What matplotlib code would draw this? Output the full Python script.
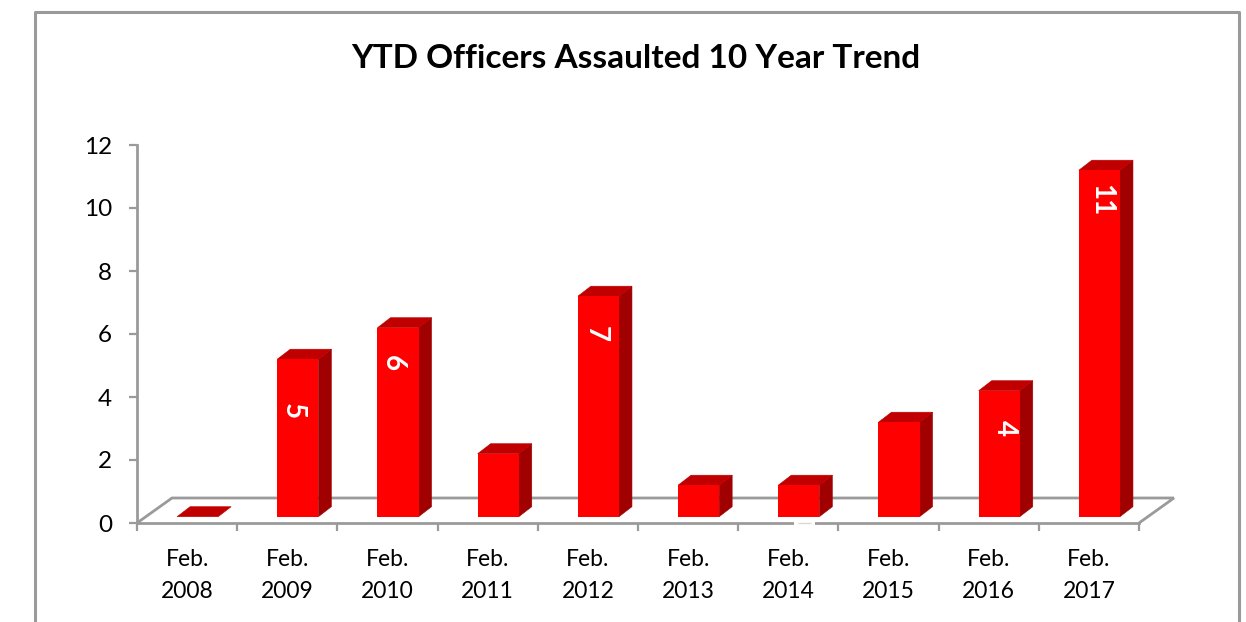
import matplotlib
matplotlib.use("Agg")
import matplotlib.pyplot as plt
from matplotlib.patches import Polygon
from matplotlib.lines import Line2D

plt.rcParams['font.family'] = ['Lato', 'DejaVu Sans']

categories = ["Feb.\n2008", "Feb.\n2009", "Feb.\n2010", "Feb.\n2011", "Feb.\n2012",
              "Feb.\n2013", "Feb.\n2014", "Feb.\n2015", "Feb.\n2016", "Feb.\n2017"]
values = [0, 5, 6, 2, 7, 1, 1, 3, 4, 11]
labelled = [False, True, True, False, True, False, False, False, True, True]
yticks = [0, 2, 4, 6, 8, 10, 12]

W, H = 1246, 622
AX_L, AX_R, AX_T, AX_B = 137, 1139, 145, 523
GREY = '#9a9a9a'
FRONT, SIDE, TOP = '#ff0000', '#a00000', '#c00000'

fig = plt.figure(figsize=(W / 100, H / 100), dpi=100, facecolor='white')

# outer chart frame, running off the bottom of the picture
fig.add_artist(Line2D([34.5 / W, 34.5 / W, 1239 / W, 1239 / W],
                      [0, 1 - 12 / H, 1 - 12 / H, 0],
                      color=GREY, lw=2.2, transform=fig.transFigure))

ax = fig.add_axes([AX_L / W, 1 - AX_B / H, (AX_R - AX_L) / W, (AX_B - AX_T) / H])
ax.set_xlim(0, len(categories))
ax.set_ylim(0, 12)
ax.patch.set_visible(False)

px = len(categories) / (AX_R - AX_L)   # data units per pixel, x
py = 12 / (AX_B - AX_T)                # data units per pixel, y
dx, dy = 13 * px, 10 * py              # bar depth
fx, fy = 35 * px, 25 * py              # floor depth
base = 6.3 * py                        # bar front sits forward of the axis
bar_left, bar_w = 0.40, 0.41

# floor
ax.add_patch(Polygon([(0, 0), (fx, fy), (len(categories) + fx, fy), (len(categories), 0)],
                     closed=False, fill=False, ec=GREY, lw=2, clip_on=False, zorder=1))

# bars
for i, v in enumerate(values):
    x0 = i + bar_left
    x1 = x0 + bar_w
    t = base + v
    if v > 0:
        ax.add_patch(Polygon([(x1, base), (x1 + dx, base + dy), (x1 + dx, t + dy), (x1, t)],
                             fc=SIDE, ec=SIDE, lw=0.4, clip_on=False, zorder=3))
    ax.add_patch(Polygon([(x0, t), (x0 + dx, t + dy), (x1 + dx, t + dy), (x1, t)],
                         fc=TOP, ec=TOP, lw=0.4, clip_on=False, zorder=3))
    if v > 0:
        ax.bar(x0, v, width=bar_w, bottom=base, align='edge', color=FRONT, lw=0, zorder=3.5)

# data labels (rotated), placed as they sit in the source
label_drop = {1: 52, 2: 35, 4: 38, 8: 37, 9: 30}
label_shift = {1: -5, 2: -5, 4: -3, 8: 6, 9: 2}
for i, (v, show) in enumerate(zip(values, labelled)):
    if show:
        ax.text(i + bar_left + bar_w / 2 + label_shift[i] * px, base + v - label_drop[i] * py, str(v),
                rotation=-90, ha='center', va='center', color='white',
                fontsize=20, fontweight='bold', zorder=4)

# axes
for s in ('top', 'right'):
    ax.spines[s].set_visible(False)
for s in ('left', 'bottom'):
    ax.spines[s].set_color(GREY)
    ax.spines[s].set_linewidth(2)
ax.set_yticks(yticks)
ax.set_yticklabels([str(t) for t in yticks], fontsize=17.5, color='black')
ax.tick_params(axis='y', length=6, width=1.6, color=GREY, pad=12)
ax.set_xticks([i for i in range(len(categories) + 1)])
ax.set_xticklabels([])
ax.tick_params(axis='x', length=6, width=1.6, color=GREY)
ax.set_xticks([i + 0.5 for i in range(len(categories))], minor=True)
ax.set_xticklabels(categories, minor=True, fontsize=16.5, linespacing=1.65, color='black')
ax.tick_params(axis='x', which='minor', length=0, pad=19)

# small break in the axis line below the 2014 bar
ax.plot([6 + 0.56, 6 + 0.77], [0, 0], color='white', lw=3, clip_on=False, zorder=5,
        solid_capstyle='butt')
ax.plot([6 + 0.60, 6 + 0.73], [0, 0], color='#d8d8d8', lw=1, clip_on=False, zorder=6,
        solid_capstyle='butt')

fig.text(636 / W, 1 - 59 / H, "YTD Officers Assaulted 10 Year Trend",
         ha='center', va='center', fontsize=24, fontweight='bold', color='black')

fig.savefig('out.png', dpi=100)
